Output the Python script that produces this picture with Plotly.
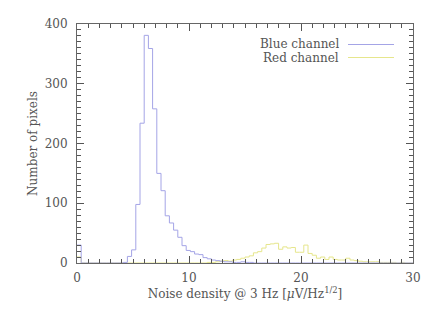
import plotly.graph_objects as go

bin_width = 0.375
n_bins = 80

# counts per bin (bin k spans k*0.375 .. (k+1)*0.375)
blue_counts = [30, 0, 0, 0, 0, 0, 0, 0, 0, 0,
               0, 1, 11, 22, 98, 234, 381, 359, 258, 150,
               121, 79, 67, 55, 43, 29, 21, 19, 15, 14,
               9, 7, 5, 4, 3, 2, 2, 1, 1, 2,
               1, 1, 0, 0, 0, 0, 0, 0, 0, 0,
               0, 0, 0, 0, 0, 0, 0, 0, 0, 0,
               0, 0, 0, 0, 0, 0, 0, 0, 0, 0,
               0, 0, 0, 0, 0, 0, 0, 0, 0, 0]
red_counts = [10, 0, 0, 0, 0, 0, 0, 0, 0, 0,
              0, 0, 0, 0, 0, 0, 0, 0, 0, 0,
              0, 0, 0, 0, 0, 0, 0, 0, 0, 0,
              0, 1, 1, 2, 3, 4, 3, 5, 6, 8,
              10, 12, 17, 19, 25, 31, 32, 33, 23, 27,
              25, 26, 18, 18, 30, 16, 13, 8, 10, 6,
              10, 6, 5, 5, 8, 5, 4, 3, 2, 2,
              2, 2, 1, 1, 1, 1, 0, 1, 0, 0]
series_names = ["Blue channel", "Red channel"]
series_colors = ["#a4a4e6", "#e6e68c"]
x_range = [0, 30]
y_range = [0, 400]

edges = [k * bin_width for k in range(n_bins + 1)]

def step(counts):
    return edges, list(counts) + [counts[-1]]

fig = go.Figure()
for counts, name, col in [(red_counts, series_names[1], series_colors[1]),
                          (blue_counts, series_names[0], series_colors[0])]:
    xs, ys = step(counts)
    fig.add_trace(go.Scatter(x=xs, y=ys, mode="lines", line_shape="hv",
                             line=dict(color=col, width=1), name=name,
                             showlegend=False))

font = dict(family="DejaVu Serif", size=12, color="#555555")
tick_col = "#555555"
axis_common = dict(showline=True, linecolor="#666666", linewidth=1, mirror="ticks",
                   ticks="inside", tickcolor=tick_col, ticklen=7, tickwidth=1, showgrid=False,
                   zeroline=False, automargin=False,
                   tickfont=dict(family="DejaVu Serif", size=12, color="#555555"))

fig.update_xaxes(range=x_range, tick0=0, dtick=10,
                 minor=dict(dtick=1, ticks="inside", ticklen=4, tickcolor=tick_col, tickwidth=1, showgrid=False),
                 title=dict(text="Noise density @ 3 Hz [<i>μ</i>V/Hz<sup>1/2</sup>]", font=font, standoff=0),
                 ticklabelstandoff=4,
                 **axis_common)
fig.update_yaxes(range=y_range, tick0=0, dtick=100,
                 minor=dict(dtick=10, ticks="inside", ticklen=4, tickcolor=tick_col, tickwidth=1, showgrid=False),
                 title=dict(text="Number of pixels", font=font, standoff=4),
                 ticklabelstandoff=6,
                 **axis_common)

# legend: text on the left, line sample on the right (page pixel positions)
page_off = 8  # default page margin of the html body
plot_l, plot_t, plot_w, plot_h = 77, 24, 336, 239
leg_y = [44.5, 57.5]
for i, (name, col) in enumerate(zip(series_names, series_colors)):
    yp = 1 - (leg_y[i] - plot_t) / plot_h
    fig.add_annotation(x=(340 - plot_l) / plot_w, y=yp, xref="paper", yref="paper",
                       text=name, showarrow=False, xanchor="right", yanchor="middle",
                       height=12, borderpad=0,
                       font=dict(family="DejaVu Serif", size=12, color="#555555"))
    fig.add_shape(type="line", xref="paper", yref="paper",
                  x0=(348 - plot_l) / plot_w, x1=(394 - plot_l) / plot_w, y0=yp, y1=yp,
                  line=dict(color=col, width=1))

fig.update_layout(width=436 - page_off, height=312 - page_off,
                  margin=dict(l=plot_l - page_off, r=23, t=plot_t - page_off, b=49),
                  plot_bgcolor="white", paper_bgcolor="white", font=font,
                  showlegend=False)
fig.write_html("out.html")
